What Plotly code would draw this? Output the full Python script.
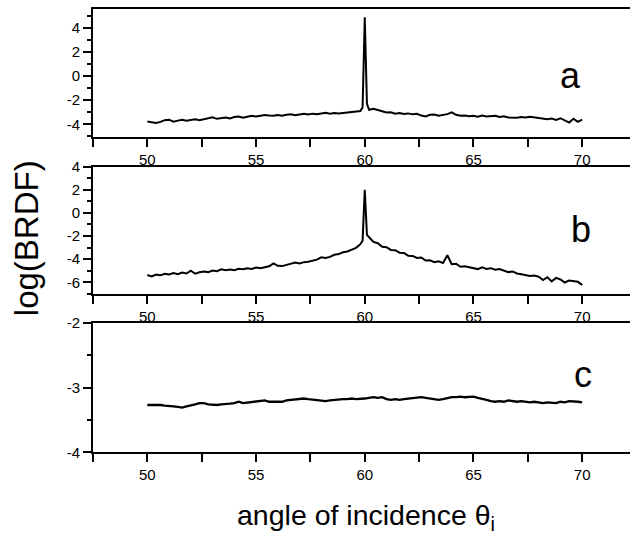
import plotly.graph_objects as go

# ---------------- data ----------------
x_ab = [50.0, 50.2, 50.4, 50.6, 50.8, 51.0, 51.2, 51.4, 51.6, 51.8,
        52.0, 52.2, 52.4, 52.6, 52.8, 53.0, 53.2, 53.4, 53.6, 53.8,
        54.0, 54.2, 54.4, 54.6, 54.8, 55.0, 55.2, 55.4, 55.6, 55.8,
        56.0, 56.2, 56.4, 56.6, 56.8, 57.0, 57.2, 57.4, 57.6, 57.8,
        58.0, 58.2, 58.4, 58.6, 58.8, 59.0, 59.2, 59.4, 59.6, 59.8,
        59.9, 60.0, 60.1,
        60.2, 60.4, 60.6, 60.8, 61.0, 61.2, 61.4, 61.6, 61.8, 62.0,
        62.2, 62.4, 62.6, 62.8, 63.0, 63.2, 63.4, 63.6, 63.8, 64.0,
        64.2, 64.4, 64.6, 64.8, 65.0, 65.2, 65.4, 65.6, 65.8, 66.0,
        66.2, 66.4, 66.6, 66.8, 67.0, 67.2, 67.4, 67.6, 67.8, 68.0,
        68.2, 68.4, 68.6, 68.8, 69.0, 69.2, 69.4, 69.6, 69.8, 70.0]

y_a = [-3.78, -3.85, -3.90, -3.80, -3.66, -3.62, -3.78, -3.70, -3.62, -3.70,
       -3.64, -3.58, -3.66, -3.60, -3.52, -3.42, -3.55, -3.48, -3.44, -3.52,
       -3.40, -3.36, -3.46, -3.38, -3.30, -3.36, -3.32, -3.24, -3.28, -3.30,
       -3.24, -3.30, -3.22, -3.18, -3.26, -3.20, -3.14, -3.20, -3.12, -3.16,
       -3.08, -3.04, -3.12, -3.06, -3.10, -3.06, -3.02, -2.98, -3.00, -2.90,
       -2.60, 4.85, -2.30,
       -2.80, -2.72, -2.85, -2.92, -3.02, -3.00, -3.12, -3.06, -3.14, -3.10,
       -3.18, -3.14, -3.28, -3.36, -3.22, -3.20, -3.30, -3.24, -3.16, -3.02,
       -3.22, -3.30, -3.28, -3.34, -3.30, -3.38, -3.28, -3.36, -3.32, -3.30,
       -3.40, -3.34, -3.44, -3.48, -3.46, -3.40, -3.44, -3.38, -3.42, -3.48,
       -3.50, -3.58, -3.52, -3.64, -3.50, -3.70, -3.86, -3.54, -3.80, -3.62]

y_b = [-5.37, -5.50, -5.34, -5.40, -5.26, -5.32, -5.20, -5.30, -5.16, -5.24,
       -5.00, -5.26, -5.14, -5.06, -5.12, -4.98, -5.04, -4.88, -4.96, -4.90,
       -4.96, -4.84, -4.88, -4.78, -4.84, -4.72, -4.78, -4.70, -4.62, -4.36,
       -4.58, -4.60, -4.50, -4.46, -4.30, -4.38, -4.26, -4.22, -4.12, -4.04,
       -3.84, -3.90, -3.80, -3.62, -3.56, -3.40, -3.34, -3.18, -3.02, -2.70,
       -2.40, 2.00, -1.90,
       -2.10, -2.50, -2.62, -2.92, -2.96, -3.20, -3.22, -3.44, -3.46, -3.70,
       -3.72, -3.90, -3.86, -4.12, -4.10, -4.26, -4.18, -4.34, -3.66, -4.44,
       -4.40, -4.66, -4.62, -4.72, -4.76, -4.86, -4.70, -4.84, -4.78, -4.92,
       -4.86, -5.00, -5.12, -5.06, -5.24, -5.30, -5.40, -5.46, -5.42, -5.52,
       -5.80, -5.56, -5.92, -5.62, -5.76, -6.02, -5.84, -5.90, -5.96, -6.22]

x_c = [50.0, 50.2, 50.4, 50.6, 50.8, 51.0, 51.2, 51.4, 51.6, 51.8,
       52.0, 52.2, 52.4, 52.6, 52.8, 53.0, 53.2, 53.4, 53.6, 53.8,
       54.0, 54.2, 54.4, 54.6, 54.8, 55.0, 55.2, 55.4, 55.6, 55.8,
       56.0, 56.2, 56.4, 56.6, 56.8, 57.0, 57.2, 57.4, 57.6, 57.8,
       58.0, 58.2, 58.4, 58.6, 58.8, 59.0, 59.2, 59.4, 59.6, 59.8,
       60.0, 60.2, 60.4, 60.6, 60.8, 61.0, 61.2, 61.4, 61.6, 61.8,
       62.0, 62.2, 62.4, 62.6, 62.8, 63.0, 63.2, 63.4, 63.6, 63.8,
       64.0, 64.2, 64.4, 64.6, 64.8, 65.0, 65.2, 65.4, 65.6, 65.8,
       66.0, 66.2, 66.4, 66.6, 66.8, 67.0, 67.2, 67.4, 67.6, 67.8,
       68.0, 68.2, 68.4, 68.6, 68.8, 69.0, 69.2, 69.4, 69.6, 69.8, 70.0]

y_c = [-3.27, -3.27, -3.26, -3.27, -3.28, -3.28, -3.29, -3.30, -3.31, -3.29,
       -3.28, -3.26, -3.24, -3.24, -3.26, -3.27, -3.27, -3.26, -3.26, -3.25,
       -3.24, -3.22, -3.24, -3.23, -3.22, -3.22, -3.21, -3.20, -3.22, -3.22,
       -3.23, -3.22, -3.20, -3.19, -3.18, -3.17, -3.17, -3.18, -3.19, -3.20,
       -3.21, -3.21, -3.20, -3.19, -3.19, -3.18, -3.18, -3.17, -3.18, -3.18,
       -3.17, -3.16, -3.15, -3.16, -3.15, -3.18, -3.19, -3.18, -3.19, -3.18,
       -3.17, -3.16, -3.16, -3.15, -3.16, -3.17, -3.18, -3.19, -3.18, -3.16,
       -3.15, -3.15, -3.14, -3.15, -3.15, -3.14, -3.16, -3.17, -3.19, -3.21,
       -3.22, -3.21, -3.22, -3.20, -3.21, -3.22, -3.21, -3.22, -3.23, -3.22,
       -3.23, -3.24, -3.23, -3.24, -3.24, -3.22, -3.23, -3.21, -3.21, -3.22, -3.23]

x_tickvals = [50, 55, 60, 65, 70]
x_ticktext = ["50", "55", "60", "65", "70"]
ya_tickvals = [-4, -2, 0, 2, 4]
ya_ticktext = ["-4", "-2", "0", "2", "4"]
yb_tickvals = [-6, -4, -2, 0, 2, 4]
yb_ticktext = ["-6", "-4", "-2", "0", "2", "4"]
yc_tickvals = [-4, -3, -2]
yc_ticktext = ["-4", "-3", "-2"]
panel_labels = ["a", "b", "c"]

# ---------------- figure ----------------
W, H = 630, 536
L = 93
PW = W - L
FONT = "Liberation Sans, Arial, Helvetica, sans-serif"

def py(px):
    return (H - px) / H

def pxx(px):
    return (px - L) / PW

fig = go.Figure()
line = dict(color="black", width=2)
fig.add_trace(go.Scatter(x=x_ab, y=y_a, mode="lines", line=line, xaxis="x", yaxis="y", showlegend=False))
fig.add_trace(go.Scatter(x=x_ab, y=y_b, mode="lines", line=line, xaxis="x2", yaxis="y2", showlegend=False))
fig.add_trace(go.Scatter(x=x_c, y=y_c, mode="lines", line=dict(color="black", width=2.3), xaxis="x3", yaxis="y3", showlegend=False))

tickfont = dict(family=FONT, size=15, color="black")

def xax(anchor):
    return dict(anchor=anchor, domain=[0, 1], range=[47.5, 72.2],
                tickmode="array", tickvals=x_tickvals, ticktext=x_ticktext,
                ticks="outside", ticklen=8, tickwidth=1.5, tickcolor="black",
                minor=dict(dtick=2.5, tick0=47.5, ticks="outside", ticklen=8, tickwidth=1.5, tickcolor="black"),
                showline=True, linecolor="black", linewidth=2, mirror=True,
                showgrid=False, zeroline=False, tickfont=tickfont, automargin=False)

def yax(anchor, dom, rng, tv, tt, mdt):
    return dict(anchor=anchor, domain=dom, range=rng,
                tickmode="array", tickvals=tv, ticktext=tt,
                ticks="outside", ticklen=8, tickwidth=1.5, tickcolor="black",
                minor=dict(dtick=mdt, ticks="outside", ticklen=4, tickwidth=1.5, tickcolor="black"),
                showline=True, linecolor="black", linewidth=2,
                showgrid=False, zeroline=False, tickfont=dict(family=FONT, size=15, color="black"),
                automargin=False)

fig.update_layout(
    width=W, height=H,
    margin=dict(l=L, r=0, t=0, b=0),
    paper_bgcolor="white", plot_bgcolor="white",
    xaxis=xax("y"), xaxis2=xax("y2"), xaxis3=xax("y3"),
    yaxis=yax("x", [py(136.7), py(9.3)], [-5.03, 5.52], ya_tickvals, ya_ticktext, 1),
    yaxis2=yax("x2", [py(294.3), py(166.7)], [-7.04, 4.0], yb_tickvals, yb_ticktext, 1),
    yaxis3=yax("x3", [py(452.3), py(322.7)], [-4, -2], yc_tickvals, yc_ticktext, 0.5),
)

annots = [
    dict(text="log(BRDF)", x=pxx(26.7), y=py(238.5), textangle=-90, size=33, ya="middle"),
    dict(text="angle of incidence θ<sub>i</sub>", x=pxx(366), y=py(497), textangle=0, size=28.5, ya="top"),
    dict(text=panel_labels[0], x=pxx(570.5), y=py(75), textangle=0, size=36, ya="middle"),
    dict(text=panel_labels[1], x=pxx(581), y=py(229), textangle=0, size=36, ya="middle"),
    dict(text=panel_labels[2], x=pxx(583), y=py(374), textangle=0, size=36, ya="middle"),
]
for a in annots:
    fig.add_annotation(text=a["text"], x=a["x"], y=a["y"], xref="paper", yref="paper",
                       xanchor="center", yanchor=a["ya"], textangle=a["textangle"],
                       showarrow=False, font=dict(family=FONT, size=a["size"], color="black"))

fig.write_html("out.html")
